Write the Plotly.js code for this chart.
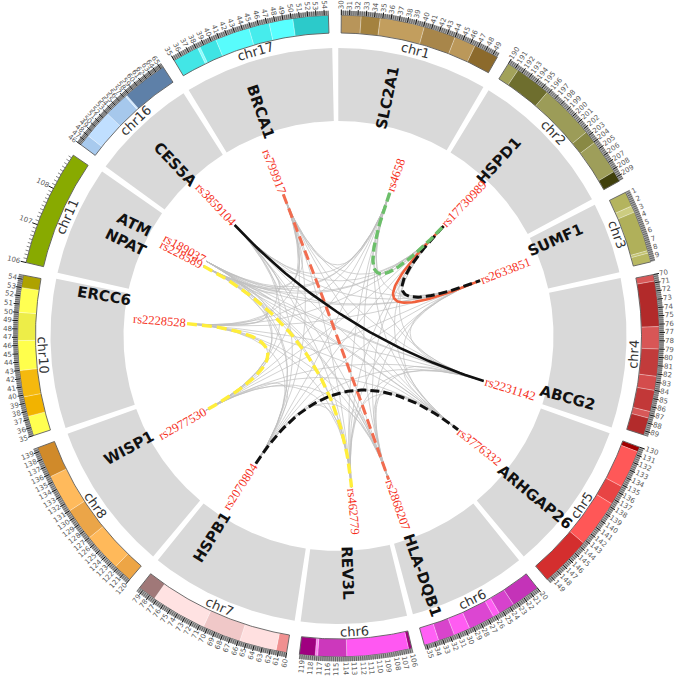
<!DOCTYPE html>
<html><head><meta charset="utf-8">
<script src="https://cdn.plot.ly/plotly-3.0.1.min.js"></script>
<style>html,body{margin:0;padding:0;background:#fff}</style>
</head><body><div id="chart" style="width:675px;height:678px"></div>
<script>
// ---------------- DATA ----------------
const segChrom = ['chr1','chr2','chr3','chr4','chr5','chr6','chr6','chr7','chr8','chr10','chr11','chr16','chr17'];
const segStart = [30, 190, 0.7, 70, 130, 20, 105.9, 60, 120, 35, 106, 46, 35];
const segEnd   = [49.6, 209.6, 9.6, 89.5, 149.6, 35.3, 119.5, 79.5, 139.5, 54.5, 108.98, 65.5, 54.5];
const segZoom  = [1,1,1,1,1,1,1,1,1,1,4.75,0.7,1];

const bandEdges = [
  [30,32.4,34.7,40.1,44.0,46.6,49.6],
  [190,191.4,195.8,202.5,204.1,208.3,209.6],
  [0.7,2.5,3.3,8.2,8.5,9.6],
  [70,70.8,76.3,79,82.3,84,86.6,87.4,89.5],
  [130,130.6,135.2,137.6,143.4,149.6],
  [20,23.5,25.5,26.3,29.5,31.5,33.5,35.3],
  [105.9,106.3,113.8,117.3,117.6,119.5],
  [60,61.3,65.8,70.5,77.3,79.5],
  [120,122.3,127.0,131.0,135.7,139.5],
  [35,37.4,39.8,43.0,46.6,50.0,53.0,54.5],
  [106,108.98],
  [46,48,53,57.3,57.6,65.5],
  [35,38.2,38.5,40.6,44.8,47.3,50.2,54.5]
];
const bandColors = [
  ['#b8955a','#a4823f','#c29e5e','#a8864a','#bb985a','#8c6a2c'],
  ['#a2a25a','#6e6e2e','#9c9c58','#898944','#9e9e5a','#40400c'],
  ['#b4b45e','#cccc80','#b0b05a','#c4c474','#b8b862'],
  ['#d85858','#b22a2a','#d85656','#c23b3b','#d44c4c','#c23838','#d85858','#b32b2b'],
  ['#a00000','#ff5858','#e84444','#ff5757','#d42e2e'],
  ['#c433b8','#d642cc','#ff5cf2','#dc46d2','#ff5cf2','#d844cc','#ff60f5'],
  ['#a0007c','#ff58f2','#cc38bc','#ff80f4','#a00080'],
  ['#f09090','#ffe0e0','#f0c8c8','#ffe2e2','#a07878'],
  ['#eda545','#ffb95a','#eba548','#ffba5c','#d08a2a'],
  ['#ffff50','#f2b300','#f5b90e','#ffff4c','#eded48','#ffff52','#aea200'],
  ['#88aa00'],
  ['#a8caee','#c0dfff','#a6c8ec','#d0e8ff','#5e80a8'],
  ['#42e6e6','#88ffff','#3fe4e4','#58fcfc','#46ecec','#58ffff','#2ccaca']
];

const geneNames = ['SLC2A1','HSPD1','SUMF1','ABCG2','ARHGAP26','HLA-DQB1','REV3L','HSPB1','WISP1','ERCC6','ATM<br>NPAT','CES5A','BRCA1'];
const geneSeg   = [0,1,2,3,4,5,6,7,8,9,10,11,12];
const genePos   = [37.5,197.0,2.5,87.6,142.9,32.7,113.4,75.3,134.2,53.6,107.8,55.4,42.9];

const snpNames = ['rs4658','rs17730989','rs2633851','rs2231142','rs3776332','rs2868207','rs462779','rs2070804','rs2977530','rs2228528','rs228589','rs189037','rs3859104','rs799917'];
const snpSeg   = [0,1,2,3,4,5,6,7,8,9,10,10,11,12];
const snpPos   = [42.9,197.9,4.2,89.0,142.0,32.8,111.5,75.9,133.5,50.3,108.0,108.3,55.9,41.4];

const hlFrom = ['rs17730989','rs17730989','rs4658','rs799917','rs3859104','rs228589','rs2228528','rs2070804'];
const hlTo   = ['rs2633851','rs2633851','rs17730989','rs2868207','rs2231142','rs462779','rs2977530','rs3776332'];
const hlColor = ['#f0603c','#111111','#6cbf6a','#f26c4f','#111111','#ffee3a','#ffee3a','#111111'];
const hlDash  = ['solid','9px,4px','9px,4px','10px,5px','solid','10px,5px','10px,5px','9px,4px'];
const hlWidth = [2.6,3,3.4,3,2.6,3.4,3.4,3];
const hlBend  = [-14,8,0,0,0,0,0,0];

// ---------------- GEOMETRY ----------------
const GAP = 2.3, START = 0.5;
const R_LINK=152, R_GIN=215, R_GOUT=288, R_CHR=296, R_BIN=303, R_BOUT=321;
const total = segStart.reduce((s,_,i)=>s+(segEnd[i]-segStart[i])*segZoom[i],0);
const K = (360 - GAP*segStart.length)/total;
const segA0=[], segA1=[];
let acc = START;
for (let i=0;i<segStart.length;i++){ segA0[i]=acc; acc += (segEnd[i]-segStart[i])*segZoom[i]*K; segA1[i]=acc; acc += GAP; }
const ang = (s,mb)=> segA0[s] + (mb-segStart[s])*segZoom[s]*K;
const pt = (r,deg)=>{const t=deg*Math.PI/180; return [r*Math.sin(t), r*Math.cos(t)];};
const norm = d=>((d%360)+360)%360;
const radialAngle = th=>{th=norm(th); return th<180? th-90 : th-270;};
const tangAngle = th=>{th=norm(th); if(th>90&&th<270) return th-180; return th>180? th-360: th;};

function arcPoly(a0,a1,r0,r1){
  const xs=[],ys=[]; const n=Math.max(2,Math.ceil(Math.abs(a1-a0)/0.4));
  for(let i=0;i<=n;i++){const p=pt(r1,a0+(a1-a0)*i/n); xs.push(p[0]); ys.push(p[1]);}
  for(let i=n;i>=0;i--){const p=pt(r0,a0+(a1-a0)*i/n); xs.push(p[0]); ys.push(p[1]);}
  xs.push(xs[0]); ys.push(ys[0]);
  return [xs,ys];
}

const traces=[];
const snpAng = snpNames.map((_,i)=>ang(snpSeg[i],snpPos[i]));
const snpIdx = n=>snpNames.indexOf(n);

function bezier(i,j,bend){
  const a=snpAng[i], b=snpAng[j];
  const p0=pt(R_LINK,a), p2=pt(R_LINK,b);
  let mid=(a+b)/2; if(Math.abs(a-b)>180) mid+=180;
  const c=pt(bend,mid);
  const xs=[],ys=[];
  for(let k=0;k<=60;k++){const t=k/60,u=1-t;
    xs.push(u*u*p0[0]+2*u*t*c[0]+t*t*p2[0]);
    ys.push(u*u*p0[1]+2*u*t*c[1]+t*t*p2[1]);}
  return [xs,ys];
}

// gray links (all pairs)
{const xs=[],ys=[];
 for(let i=0;i<snpNames.length;i++) for(let j=i+1;j<snpNames.length;j++){
   const [bx,by]=bezier(i,j,0); xs.push(...bx,null); ys.push(...by,null);}
 traces.push({x:xs,y:ys,mode:'lines',line:{color:'#bfbfbf',width:0.7},hoverinfo:'skip'});}

// highlighted links
hlFrom.forEach((f,k)=>{
  const [bx,by]=bezier(snpIdx(f),snpIdx(hlTo[k]),hlBend[k]);
  traces.push({x:bx,y:by,mode:'lines',line:{color:hlColor[k],width:hlWidth[k],dash:hlDash[k]},hoverinfo:'skip'});
});

// gray sectors
segChrom.forEach((c,i)=>{
  const [xs,ys]=arcPoly(segA0[i]-0.55,segA1[i]+0.55,R_GIN,R_GOUT);
  traces.push({x:xs,y:ys,mode:'lines',fill:'toself',fillcolor:'#d9d9d9',line:{width:0},hoverinfo:'skip'});
});

// ideogram bands
segChrom.forEach((c,i)=>{
  const e=bandEdges[i];
  for(let b=0;b<e.length-1;b++){
    const [xs,ys]=arcPoly(ang(i,e[b]),ang(i,e[b+1]),R_BIN,R_BOUT);
    traces.push({x:xs,y:ys,mode:'lines',fill:'toself',fillcolor:bandColors[i][b],line:{color:'rgba(255,255,255,0.45)',width:0.6},hoverinfo:'skip'});
  }
  const [ox,oy]=arcPoly(segA0[i],segA1[i],R_BIN,R_BOUT);
  traces.push({x:ox,y:oy,mode:'lines',line:{color:'#4a4a4a',width:0.8},hoverinfo:'skip'});
  if(segZoom[i]<2){
    const [gx,gy]=arcPoly(segA0[i],segA1[i],R_BOUT,R_BOUT+4.5);
    traces.push({x:gx,y:gy,mode:'lines',fill:'toself',fillcolor:'#a8a8a8',line:{width:0},hoverinfo:'skip'});
  }
});

// ticks
const annotations=[];
{const mx=[],my=[],Mx=[],My=[];
 segChrom.forEach((c,i)=>{
   const step = segZoom[i]>2?0.1:0.25;
   const n=Math.floor((segEnd[i]-segStart[i])/step+1e-6);
   for(let k=0;k<=n;k++){
     const mb=segStart[i]+k*step;
     const isMaj=Math.abs(mb-Math.round(mb))<1e-6;
     const a=ang(i,mb);
     const L=isMaj?5.5:(segZoom[i]>2?3.5:4.5);
     const p0=pt(R_BOUT,a),p1=pt(R_BOUT+L,a);
     if(isMaj){Mx.push(p0[0],p1[0],null);My.push(p0[1],p1[1],null);}
     else{mx.push(p0[0],p1[0],null);my.push(p0[1],p1[1],null);}
   }
   for(let v=Math.ceil(segStart[i]-1e-6); v<=segEnd[i]; v++){
     const a=ang(i,v); const s=String(v); const w=s.length*4.2;
     const p=pt(R_BOUT+6+w/2,a);
     annotations.push({x:p[0],y:p[1],text:s,showarrow:false,textangle:radialAngle(a),
       font:{family:'DejaVu Sans',size:7,color:'#5a5a5a'},xanchor:'center',yanchor:'middle'});
   }
 });
 traces.push({x:mx,y:my,mode:'lines',line:{color:'#333',width:0.6},hoverinfo:'skip'});
 traces.push({x:Mx,y:My,mode:'lines',line:{color:'#111',width:1},hoverinfo:'skip'});}

// chromosome labels
segChrom.forEach((c,i)=>{
  const a=(segA0[i]+segA1[i])/2; const p=pt(R_CHR,a);
  annotations.push({x:p[0],y:p[1],text:c,showarrow:false,textangle:tangAngle(a),
    font:{family:'DejaVu Sans',size:13,color:'#333'},xanchor:'center',yanchor:'middle'});
});

// gene labels
geneNames.forEach((g,i)=>{
  const a=ang(geneSeg[i],genePos[i]);
  const lines=g.split('<br>'); const w=Math.max(...lines.map(l=>l.length))*11;
  const p=pt(210+w/2,a);
  annotations.push({x:p[0],y:p[1],text:'<b>'+g+'</b>',showarrow:false,textangle:radialAngle(a),
    font:{family:'DejaVu Sans',size:15,color:'#111'},xanchor:'center',yanchor:'middle'});
});

// SNP labels
snpNames.forEach((s,i)=>{
  const a=snpAng[i]; const w=s.length*5.6;
  const p=pt(R_LINK+2+w/2,a);
  annotations.push({x:p[0],y:p[1],text:s,showarrow:false,textangle:radialAngle(a),
    font:{family:'Liberation Serif',size:12.5,color:'#f5301c'},xanchor:'center',yanchor:'middle'});
});

const layout={width:675,height:678,margin:{l:0,r:0,t:0,b:0},paper_bgcolor:'#fff',plot_bgcolor:'#fff',
  showlegend:false,
  xaxis:{range:[-338.5,336.5],visible:false,fixedrange:true},
  yaxis:{range:[-342,336],visible:false,fixedrange:true},
  annotations:annotations};
Plotly.newPlot('chart',traces,layout,{staticPlot:true});
</script></body></html>
